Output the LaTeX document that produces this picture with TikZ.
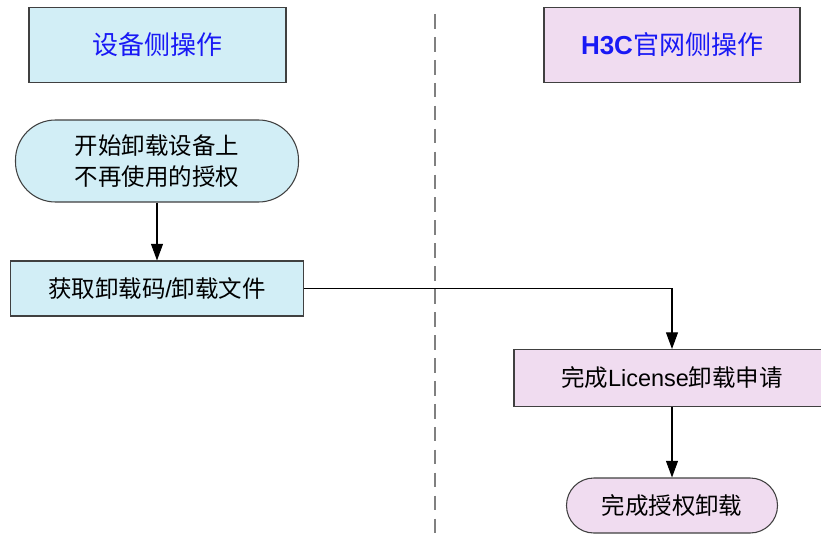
\documentclass[tikz,border=0pt]{standalone}
\usepackage{fontspec}
\setmainfont{Liberation Sans}
\newfontfamily\cjk{Noto Sans CJK SC}
\usetikzlibrary{arrows.meta}
\definecolor{devcyan}{RGB}{210,238,246}
\definecolor{webpink}{RGB}{240,220,240}
\definecolor{headblue}{RGB}{25,25,245}

\begin{document}
\begin{tikzpicture}[x=0.75pt,y=-0.75pt,
	box/.style={draw=black!75, line width=0.8pt, inner sep=0pt, align=center},
	flowtext/.style={font=\cjk\fontsize{17.6}{23.2}\selectfont},
	headtext/.style={font=\cjk\fontsize{19.5}{24}\selectfont, text=headblue},
	arr/.style={-{Triangle[length=12.5pt,width=9pt]}, line width=0.8pt}]

		\useasboundingbox (0,0) rectangle (821,535);

		% lane divider
		\draw [gray, line width=1.6pt, dash pattern=on 11pt off 6.2pt] (435,14) -- (435,535);

		% lane headers
		\node[box, headtext, fill=devcyan, minimum width=192.75pt, minimum height=56pt] (devhead) at (157.5,45) {设备侧操作};
		\node[box, headtext, fill=webpink, minimum width=192pt, minimum height=56pt] (webhead) at (672,45) {\textbf{\rmfamily H3C}官网侧操作};

		% device side
		\node[box, flowtext, fill=devcyan, rounded corners=30pt, minimum width=212.25pt, minimum height=61.5pt] (start) at (157,161) {开始卸载设备上\\不再使用的授权};
		\node[box, flowtext, fill=devcyan, minimum width=219.75pt, minimum height=41.25pt] (getcode) at (157,288.5) {获取卸载码{\rmfamily /}卸载文件};

		% website side
		\node[box, flowtext, fill=webpink, minimum width=237pt, minimum height=42.75pt] (apply) at (672,378) {完成{\rmfamily License}卸载申请};
		\node[box, flowtext, fill=webpink, rounded corners=20.5pt, minimum width=158.25pt, minimum height=41.25pt] (done) at (672,505.5) {完成授权卸载};

		% connectors
		\draw [arr] (start) -- (getcode);
		\draw [arr] (getcode.east) -| (apply.north);
		\draw [arr] (apply) -- (done);

	\end{tikzpicture}
\end{document}
